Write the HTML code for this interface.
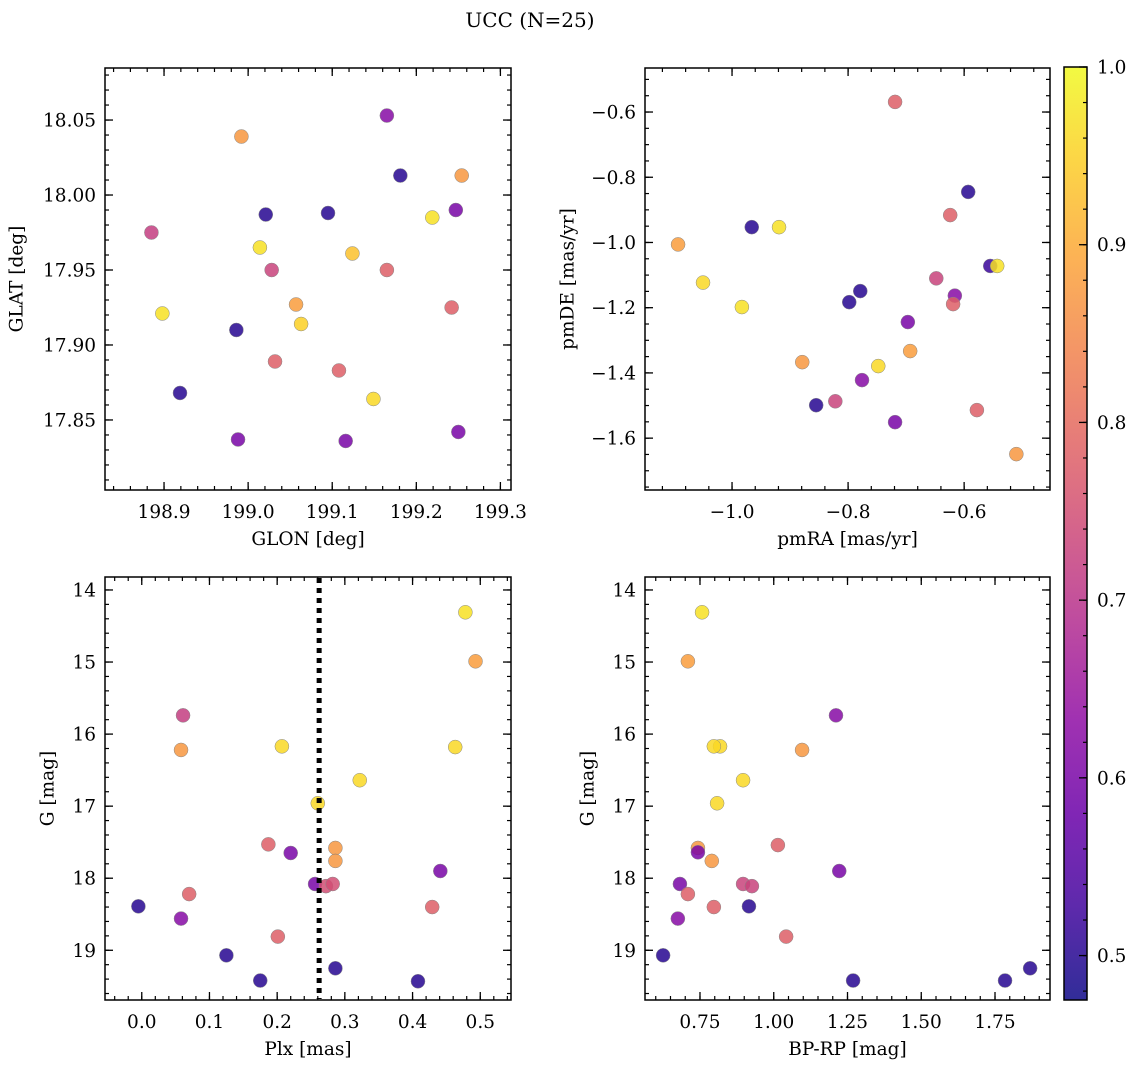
<!DOCTYPE html>
<html><head><meta charset="utf-8">
<style>
html,body{margin:0;padding:0;background:#fff;}
svg{display:block;font-family:"DejaVu Serif","Liberation Serif",serif;}
</style></head>
<body>
<svg id="fig" width="1136" height="1067" viewBox="0 0 1136 1067" xmlns="http://www.w3.org/2000/svg">
<rect width="1136" height="1067" fill="#fff"/>
<text x="530" y="27" font-size="20" text-anchor="middle">UCC (N=25)</text>
</svg>
<script>
// ---- data ----
const glon = [198.992,199.165,199.181,199.254,199.021,199.095,199.247,199.219,198.885,199.014,199.124,199.028,199.165,199.057,199.242,198.898,199.063,198.986,199.032,199.108,198.919,199.149,198.988,199.116,199.250];
const glat = [18.039,18.053,18.013,18.013,17.987,17.988,17.990,17.985,17.975,17.965,17.961,17.950,17.950,17.927,17.925,17.921,17.914,17.910,17.889,17.883,17.868,17.864,17.837,17.836,17.842];
const prob1 = [0.87,0.62,0.5,0.87,0.5,0.5,0.6,0.97,0.72,0.97,0.93,0.73,0.78,0.88,0.78,0.97,0.95,0.5,0.78,0.78,0.5,0.96,0.6,0.6,0.6];

const pmra = [-0.719,-0.593,-0.624,-0.919,-0.966,-1.093,-1.050,-0.648,-0.555,-0.543,-0.779,-0.616,-0.798,-0.619,-0.983,-0.697,-0.693,-0.748,-0.879,-0.776,-0.822,-0.855,-0.578,-0.719,-0.510];
const pmde = [-0.569,-0.845,-0.916,-0.953,-0.953,-1.006,-1.123,-1.110,-1.072,-1.072,-1.149,-1.163,-1.183,-1.189,-1.198,-1.244,-1.333,-1.379,-1.367,-1.422,-1.487,-1.499,-1.514,-1.551,-1.649];
const prob2 = [0.78,0.5,0.78,0.97,0.5,0.88,0.96,0.73,0.52,0.97,0.5,0.62,0.5,0.78,0.97,0.6,0.88,0.96,0.87,0.62,0.73,0.5,0.78,0.6,0.87];

const plx = [0.478,0.493,0.061,0.058,0.207,0.463,0.322,0.260,0.187,0.220,0.286,0.286,0.441,0.256,0.272,0.282,0.070,-0.005,0.429,0.058,0.201,0.125,0.286,0.175,0.408];
const gmag3 = [14.31,14.99,15.74,16.22,16.17,16.18,16.64,16.96,17.53,17.65,17.58,17.76,17.90,18.08,18.11,18.08,18.22,18.39,18.40,18.56,18.81,19.07,19.25,19.42,19.43];
const prob3 = [0.97,0.88,0.72,0.87,0.96,0.96,0.96,0.96,0.78,0.6,0.87,0.87,0.6,0.6,0.75,0.75,0.78,0.5,0.78,0.62,0.78,0.5,0.5,0.5,0.5];
const plxMedian = 0.262;

const bprp = [0.757,0.709,1.211,0.818,0.797,1.096,0.896,0.808,0.743,0.743,0.790,1.014,1.222,0.682,0.896,0.926,0.709,0.797,0.916,0.675,1.042,0.625,1.869,1.269,1.784];
const gmag4 = [14.31,14.99,15.74,16.17,16.17,16.22,16.64,16.96,17.58,17.64,17.76,17.54,17.90,18.08,18.08,18.11,18.22,18.40,18.39,18.56,18.81,19.07,19.25,19.42,19.42];
const prob4 = [0.97,0.88,0.62,0.96,0.96,0.87,0.96,0.96,0.87,0.6,0.87,0.78,0.6,0.6,0.73,0.73,0.78,0.78,0.5,0.62,0.78,0.5,0.5,0.5,0.5];

const cbTicks = [0.5,0.6,0.7,0.8,0.9,1.0];
const vmin = 0.475, vmax = 1.0;

// ---- helpers ----
const NS = "http://www.w3.org/2000/svg";
const svg = document.getElementById('fig');
function mk(tag, attrs, parent){ const e=document.createElementNS(NS,tag); for(const k in attrs) e.setAttribute(k,attrs[k]); (parent||svg).appendChild(e); return e; }
const stops=[[0,[13,8,135]],[0.1,[65,4,157]],[0.2,[106,0,168]],[0.3,[143,13,164]],[0.4,[177,42,144]],[0.5,[204,71,120]],[0.6,[225,100,98]],[0.7,[242,132,75]],[0.8,[252,166,54]],[0.9,[252,206,37]],[1,[240,249,33]]];
function plasma(t){ t=Math.max(0,Math.min(1,t)); for(let i=0;i<stops.length-1;i++){ const a=stops[i],b=stops[i+1]; if(t<=b[0]){ const f=(t-a[0])/(b[0]-a[0]); return 'rgb('+a[1].map((v,j)=>Math.round(v+(b[1][j]-v)*f)).join(',')+')'; } } return 'rgb(240,249,33)'; }
function cmap(v){ return plasma((v-vmin)/(vmax-vmin)); }
function fmt(v,d){ const s=Math.abs(v).toFixed(d); return (v<-1e-9?'\u2212':'')+s; }
const FS=18.5;

function panel(name, box, xr, yr, xMaj, xMin, yMaj, yMin, xd, yd, xlabel, ylabel, xs, ys, cs, invertY, yOff){
  const g = mk('g',{});
  
  
  const [L,T,R,B]=box;
  const X=v=>L+(v-xr[0])/(xr[1]-xr[0])*(R-L);
  const Y=invertY ? v=>T+(v-yr[0])/(yr[1]-yr[0])*(B-T) : v=>B-(v-yr[0])/(yr[1]-yr[0])*(B-T);
  const eps=1e-9;
  for(let v=Math.ceil(xr[0]/xMin-eps)*xMin; v<=xr[1]+eps; v+=xMin){ const x=X(v); mk('line',{x1:x,x2:x,y1:B,y2:B-4,stroke:'#000','stroke-width':1.2},g); mk('line',{x1:x,x2:x,y1:T,y2:T+4,stroke:'#000','stroke-width':1.2},g); }
  for(let v=Math.ceil(yr[0]/yMin-eps)*yMin; v<=yr[1]+eps; v+=yMin){ const y=Y(v); mk('line',{x1:L,x2:L+4,y1:y,y2:y,stroke:'#000','stroke-width':1.2},g); mk('line',{x1:R,x2:R-4,y1:y,y2:y,stroke:'#000','stroke-width':1.2},g); }
  for(let v=Math.ceil(xr[0]/xMaj-eps)*xMaj; v<=xr[1]+eps; v+=xMaj){ const x=X(v); mk('line',{x1:x,x2:x,y1:B,y2:B-8,stroke:'#000','stroke-width':1.3},g); mk('line',{x1:x,x2:x,y1:T,y2:T+8,stroke:'#000','stroke-width':1.3},g);
    const t=mk('text',{x:x,y:B+28,'font-size':FS,'text-anchor':'middle'},g); t.textContent=fmt(v,xd);
      }
  for(let v=Math.ceil(yr[0]/yMaj-eps)*yMaj; v<=yr[1]+eps; v+=yMaj){ const y=Y(v); mk('line',{x1:L,x2:L+8,y1:y,y2:y,stroke:'#000','stroke-width':1.3},g); mk('line',{x1:R,x2:R-8,y1:y,y2:y,stroke:'#000','stroke-width':1.3},g);
    const t=mk('text',{x:L-9,y:y+6.5,'font-size':FS,'text-anchor':'end'},g); t.textContent=fmt(v,yd);
      }
  for(let i=0;i<xs.length;i++){
    const c=mk('circle',{cx:X(xs[i]),cy:Y(ys[i]),r:7,fill:cmap(cs[i]),'fill-opacity':0.85,stroke:'#888','stroke-width':0.5},g);
    
    
  }
  mk('rect',{x:L,y:T,width:R-L,height:B-T,fill:'none',stroke:'#000','stroke-width':1.5},g);
  const xl=mk('text',{x:(L+R)/2,y:B+55,'font-size':FS,'text-anchor':'middle'},g); xl.textContent=xlabel;
   
  const yx=L-yOff, yy=(T+B)/2;
  const yl=mk('text',{x:yx,y:yy,'font-size':FS,'text-anchor':'middle','dominant-baseline':'central',transform:`rotate(-90 ${yx} ${yy})`},g); yl.textContent=ylabel;
   
  return {X,Y,g};
}

panel('glon-glat-panel',[105,68,511,490],[198.8298,199.3126],[17.8033,18.0847],0.1,0.02,0.05,0.01,1,2,'GLON [deg]','GLAT [deg]',glon,glat,prob1,false,88);
panel('pm-panel',[645,68,1050,490],[-1.15,-0.452],[-1.759,-0.465],0.2,0.04,0.2,0.05,1,1,'pmRA [mas/yr]','pmDE [mas/yr]',pmra,pmde,prob2,false,77);
const p3=panel('plx-g-panel',[105,577,511,1000],[-0.0543,0.5454],[13.82,19.69],0.1,0.02,1,0.2,1,0,'Plx [mas]','G [mag]',plx,gmag3,prob3,true,57);
const ml=mk('line',{x1:p3.X(plxMedian),x2:p3.X(plxMedian),y1:578,y2:999,stroke:'#000','stroke-width':5,'stroke-dasharray':'5 5'},p3.g);


panel('cmd-panel',[645,577,1050,1000],[0.5636,1.9364],[13.82,19.69],0.25,0.05,1,0.2,2,0,'BP-RP [mag]','G [mag]',bprp,gmag4,prob4,true,57);

// colorbar
const cb=mk('g',{});


const defs=mk('defs',{}); const lg=mk('linearGradient',{id:'cbg',x1:0,y1:1,x2:0,y2:0},defs);
for(let i=0;i<=20;i++){ const t=i/20; mk('stop',{offset:t,'stop-color':plasma(t)},lg); }
const CT=67,CB=1000,CL=1064,CR=1087;
mk('rect',{x:CL,y:CT,width:CR-CL,height:CB-CT,fill:'url(#cbg)',opacity:0.85},cb);
const CY=v=>CB-(v-vmin)/(vmax-vmin)*(CB-CT);
for(let v=0.48; v<=1.0001; v+=0.02){ const y=CY(v); mk('line',{x1:CR,x2:CR-4,y1:y,y2:y,stroke:'#000','stroke-width':1.2},cb); }
cbTicks.forEach(v=>{ const y=CY(v); mk('line',{x1:CR,x2:CR-8,y1:y,y2:y,stroke:'#000','stroke-width':1.3},cb);
  const t=mk('text',{x:CR+10,y:y+6.5,'font-size':FS},cb); t.textContent=v.toFixed(1);
    });
mk('rect',{x:CL,y:CT,width:CR-CL,height:CB-CT,fill:'none',stroke:'#000','stroke-width':1.5},cb);
</script>
</body></html>
